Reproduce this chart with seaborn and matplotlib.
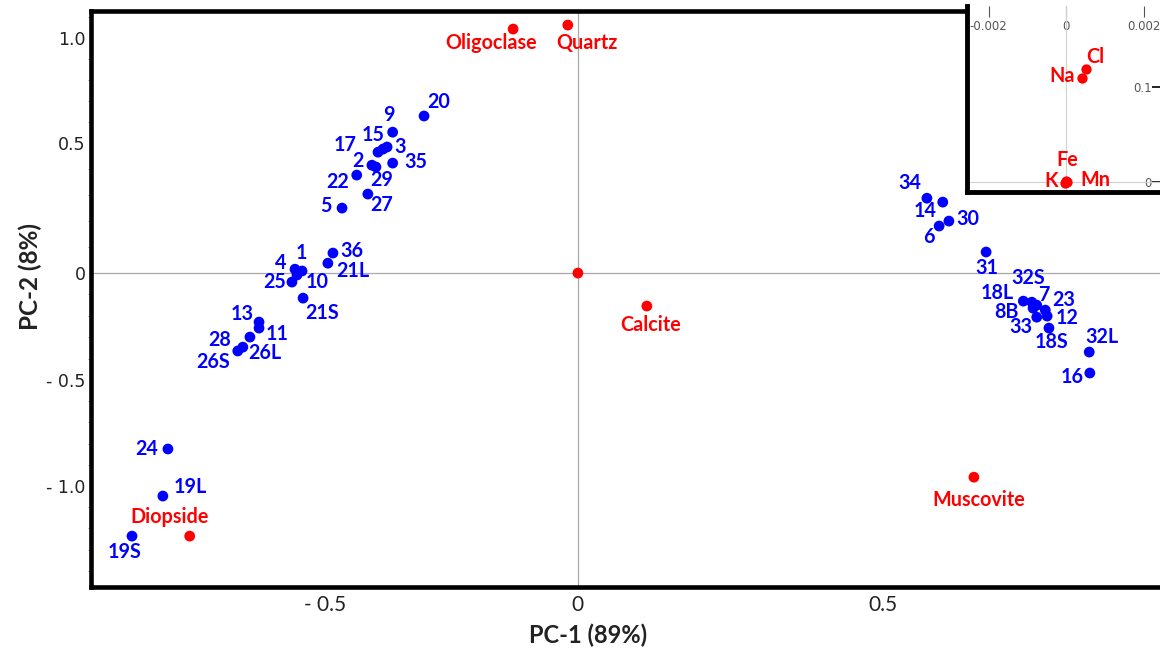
import numpy as np
import pandas as pd
import matplotlib
matplotlib.use("Agg")
import matplotlib.pyplot as plt
import seaborn as sns
from matplotlib.ticker import FixedLocator, FixedFormatter

# ---------------- data ----------------
sample_names = ["20", "9", "17", "15", "3", "2", "29", "35", "22", "27", "5",
                "4", "1", "10", "25", "36", "21L", "21S", "13", "11", "28", "26L", "26S",
                "24", "19L", "19S",
                "34", "14", "30", "6", "31", "18L", "32S", "7", "23", "8B", "12", "33",
                "18S", "32L", "16"]
sample_pc1 = [-0.304, -0.366, -0.395, -0.385, -0.377, -0.407, -0.399, -0.366, -0.437, -0.415, -0.466,
              -0.559, -0.545, -0.555, -0.565, -0.484, -0.494, -0.543, -0.630, -0.630, -0.648, -0.662, -0.672,
              -0.810, -0.820, -0.881,
              0.572, 0.598, 0.608, 0.592, 0.669, 0.730, 0.744, 0.752, 0.766, 0.746, 0.769, 0.752,
              0.772, 0.838, 0.839]
sample_pc2 = [0.629, 0.552, 0.465, 0.477, 0.485, 0.415, 0.408, 0.423, 0.377, 0.304, 0.250,
              0.015, 0.008, -0.009, -0.042, 0.077, 0.038, -0.117, -0.229, -0.257, -0.299, -0.346, -0.364,
              -0.825, -1.047, -1.236,
              0.288, 0.273, 0.200, 0.181, 0.081, -0.131, -0.136, -0.150, -0.173, -0.164, -0.201, -0.206,
              -0.257, -0.369, -0.467]

mineral_names = ["Oligoclase", "Quartz", "", "Calcite", "Muscovite", "Diopside"]
mineral_pc1 = [-0.128, -0.020, 0.0, 0.113, 0.649, -0.767]
mineral_pc2 = [1.043, 1.062, 0.0, -0.154, -0.958, -1.236]

element_names = ["Cl", "Na", "Fe", "K", "Mn"]
element_pc1 = [0.00052, 0.00041, 0.00001, -0.00002, 0.00002]
element_pc2 = [0.119, 0.1095, 0.001, -0.001, 0.0]

x_ticks = [-0.5, 0, 0.5]
x_tick_labels = ["- 0.5", "0", "0.5"]
y_ticks = [1.0, 0.5, 0, -0.5, -1.0]
y_tick_labels = ["1.0", "0.5", "0", "- 0.5", "- 1.0"]
inset_x_ticks = [-0.002, 0, 0.002]
inset_x_tick_labels = ["-0.002", "0", "0.002"]
inset_y_ticks = [0.1, 0]
inset_y_tick_labels = ["0.1", "0"]

# ---------------- layout (label offsets in pixels) ----------------
label_offsets = {
    "Oligoclase": (-22, 14), "Quartz": (19, 18), "Calcite": (4, 19), "Muscovite": (5, 23),
    "Diopside": (-20, -19),
    "20": (15, -14), "9": (-4, -17), "15": (-10, -14), "3": (13, 0), "17": (-33, -7),
    "2": (-14, -4), "29": (6, 13), "35": (23, -1), "22": (-19, 7), "27": (14, 11), "5": (-16, -2),
    "1": (-1, -18), "4": (-14, -6), "25": (-17, 0), "10": (20, 7), "36": (19, -2), "21L": (25, 8),
    "21S": (19, 15), "13": (-17, -8), "11": (18, 6), "28": (-30, 3), "26L": (22, 6), "26S": (-25, 11),
    "24": (-21, 0), "19L": (27, -9), "19S": (-7, 16),
    "34": (-17, -15), "14": (-18, 9), "30": (19, -2), "6": (-10, 11), "31": (1, 16),
    "18L": (-26, -8), "32S": (-4, -24), "7": (7, -10), "23": (18, -10), "8B": (-27, 4),
    "12": (20, 2), "33": (-16, 10), "18S": (3, 14), "32L": (13, -15), "16": (-18, 4),
    "Cl": (9, -12), "Na": (-20, -2), "Fe": (1, -21), "K": (-14, -2), "Mn": (29, -2),
}

# axis scale (the printed axis is not uniformly spaced)
X_VALS = [-3.0, -0.5, 0.0, 0.5, 3.0]
X_PIX = [325 - 2.5 * 506, 325, 578, 883, 883 + 2.5 * 610]
Y_VALS = [-3.0, -1.0, -0.5, 0.0, 0.5, 1.0, 3.0]
Y_PIX = [-910, -486, -380, -273, -143, -38, 382]


def fx(v):
    return np.interp(np.asarray(v, float), X_VALS, X_PIX)


def ix(p):
    return np.interp(np.asarray(p, float), X_PIX, X_VALS)


def fy(v):
    return np.interp(np.asarray(v, float), Y_VALS, Y_PIX)


def iy(p):
    return np.interp(np.asarray(p, float), Y_PIX, Y_VALS)


sns.set_theme(style="white")
plt.rcParams["font.family"] = ["DejaVu Sans"]

BLUE = "#0000ff"
RED = "#ff0000"
LABEL_FONT = ["Lato", "DejaVu Sans"]
LABEL_SIZE = 14.2

df = pd.concat([
    pd.DataFrame({"name": sample_names, "pc1": sample_pc1, "pc2": sample_pc2, "kind": "sample"}),
    pd.DataFrame({"name": mineral_names, "pc1": mineral_pc1, "pc2": mineral_pc2, "kind": "mineral"}),
], ignore_index=True)
df_el = pd.DataFrame({"name": element_names, "pc1": element_pc1, "pc2": element_pc2, "kind": "mineral"})

W, H = 1160, 655
fig = plt.figure(figsize=(W / 100, H / 100), dpi=100)
ax = fig.add_axes([91 / W, (H - 587) / H, (W - 91) / W, 576 / H])

sns.scatterplot(data=df, x="pc1", y="pc2", hue="kind",
                palette={"sample": BLUE, "mineral": RED},
                s=60, linewidth=0, legend=False, ax=ax, zorder=3)

ax.set_xscale("function", functions=(fx, ix))
ax.set_yscale("function", functions=(fy, iy))
ax.set_xlim(-0.962, 0.954)
ax.set_ylim(-1.476, 1.129)

ax.axhline(0, color="#a8a8a8", lw=0.9, zorder=1)
ax.axvline(0, color="#a8a8a8", lw=0.9, zorder=1)

for _, r in df.iterrows():
    if not r["name"]:
        continue
    dx, dy = label_offsets[r["name"]]
    ax.annotate(r["name"], (r["pc1"], r["pc2"]), xytext=(dx, -dy), textcoords="offset pixels",
                ha="center", va="center", fontsize=LABEL_SIZE, fontweight="bold", family=LABEL_FONT,
                color=BLUE if r["kind"] == "sample" else RED, zorder=4)

ax.xaxis.set_major_locator(FixedLocator(x_ticks))
ax.xaxis.set_major_formatter(FixedFormatter(x_tick_labels))
ax.yaxis.set_major_locator(FixedLocator(y_ticks))
ax.yaxis.set_major_formatter(FixedFormatter(y_tick_labels))
ax.yaxis.set_minor_locator(FixedLocator(np.round(np.arange(-1.4, 1.11, 0.1), 2)))
ax.xaxis.set_minor_locator(FixedLocator([]))

ax.tick_params(axis="both", which="major", direction="in", length=6.5, width=1.6,
               color="black", labelcolor="#222222")
ax.tick_params(axis="x", which="major", pad=6, labelsize=15, labelfontfamily="Lato")
ax.tick_params(axis="y", which="major", pad=4, labelsize=12.5)
ax.tick_params(axis="y", which="minor", direction="out", length=2, width=0.6,
               color="#888888", left=True)

for side in ["left", "top", "bottom"]:
    ax.spines[side].set_visible(True)
    ax.spines[side].set_linewidth(3.3)
    ax.spines[side].set_color("black")
ax.spines["right"].set_visible(False)

ax.set_xlabel("PC-1 (89%)", fontsize=17, fontweight="bold", family=LABEL_FONT, color="#222222")
ax.xaxis.set_label_coords((588 - 91) / 1069, -(624 - 587) / 576)
ax.set_ylabel("PC-2 (8%)", fontsize=17.5, fontweight="bold", family=LABEL_FONT, color="#222222")
ax.yaxis.set_label_coords(-(91 - 42) / 1069, (587 - 277) / 576)

# ---------------- inset ----------------
IN_L, IN_T, IN_B = 967, 6, 192
axi = fig.add_axes([IN_L / W, (H - IN_B) / H, (W - IN_L) / W, (IN_B - IN_T) / H])
axi.set_facecolor("white")
sns.scatterplot(data=df_el, x="pc1", y="pc2", color=RED, s=55, linewidth=0,
                legend=False, ax=axi, zorder=3)
axi.set_xlim((IN_L - 1066) / 38750, (W - 1066) / 38750)
axi.set_ylim((182 - IN_B) / 950, (182 - IN_T) / 950)
axi.axhline(0, color="#d0d0d0", lw=0.8, zorder=1)
axi.axvline(0, color="#d0d0d0", lw=0.8, zorder=1)
for _, r in df_el.iterrows():
    dx, dy = label_offsets[r["name"]]
    axi.annotate(r["name"], (r["pc1"], r["pc2"]), xytext=(dx, -dy), textcoords="offset pixels",
                 ha="center", va="center", fontsize=LABEL_SIZE, fontweight="bold", family=LABEL_FONT,
                 color=RED, zorder=4)
axi.set_xlabel("")
axi.set_ylabel("")
axi.xaxis.tick_top()
axi.yaxis.tick_right()
axi.tick_params(axis="x", direction="in", length=8, width=0.8, color="#555555",
                labelsize=8.5, labelcolor="#555555", pad=-10)
axi.tick_params(axis="y", direction="in", length=6, width=1.2, color="black",
                labelsize=8.5, labelcolor="#555555", pad=-6)
axi.xaxis.set_major_locator(FixedLocator(inset_x_ticks))
axi.set_xticklabels(inset_x_tick_labels, va="top")
axi.yaxis.set_major_locator(FixedLocator(inset_y_ticks))
axi.set_yticklabels(inset_y_tick_labels, ha="right")
for side in ["left", "bottom"]:
    axi.spines[side].set_visible(True)
    axi.spines[side].set_linewidth(3.5)
    axi.spines[side].set_color("black")
for side in ["top", "right"]:
    axi.spines[side].set_visible(False)

fig.savefig("out.png", dpi=100)
